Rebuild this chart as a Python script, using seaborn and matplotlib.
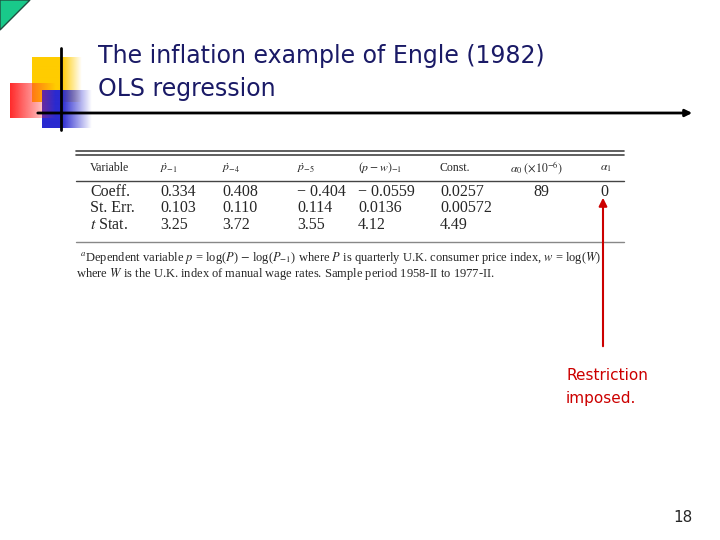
import numpy as np
import matplotlib
matplotlib.use("Agg")
import matplotlib.pyplot as plt
import seaborn as sns
from matplotlib.patches import Polygon
from matplotlib.colors import to_rgb

sns.set_theme(style="white")
plt.rcParams['font.family'] = ['DejaVu Sans']
plt.rcParams['mathtext.fontset'] = 'stix'

columns = ["Variable", r"$\dot{p}_{-1}$", r"$\dot{p}_{-4}$", r"$\dot{p}_{-5}$", r"$(p-w)_{-1}$",
           "Const.", r"$\alpha_0\ (\times 10^{-6})$", r"$\alpha_1$"]
row_labels = ["Coeff.", "St. Err.", r"$t$ Stat."]
coeff = ["0.334", "0.408", "\u2212 0.404", "\u2212 0.0559", "0.0257", "89", "0"]
st_err = ["0.103", "0.110", "0.114", "0.0136", "0.00572", "", ""]
t_stat = ["3.25", "3.72", "3.55", "4.12", "4.49", "", ""]

fig = plt.figure(figsize=(7.2, 5.4), dpi=100)
ax = fig.add_axes([0, 0, 1, 1])
ax.set_xlim(0, 720); ax.set_ylim(540, 0); ax.axis("off")

def grad(x0, y0, w, h, color, solid_frac, z):
    c = np.array(to_rgb(color))
    t = np.linspace(0, 1, 100)
    a = np.where(t < solid_frac, 1.0, 1 - (t - solid_frac) / (1 - solid_frac))
    img = np.ones((2, 100, 4)); img[..., :3] = c; img[..., 3] = a
    ax.imshow(img, extent=(x0, x0 + w, y0 + h, y0), aspect="auto", interpolation="bilinear", zorder=z)

ax.add_patch(Polygon([[0, 0], [30, 0], [0, 30]], closed=True, fc="#19c98a", ec="#205040", lw=1))
grad(32, 57, 50, 45, "#ffcc00", 0.6, 1)
grad(42, 90, 50, 38, "#2a2ad0", 0.4, 1.1)
grad(10, 83, 46, 35, "#ff2a2a", 0.0, 1.2)
ax.set_xlim(0, 720); ax.set_ylim(540, 0)
ax.plot([61, 61], [48, 130], color="black", lw=2, zorder=3)
ax.annotate("", xy=(695, 113), xytext=(35, 113),
            arrowprops=dict(arrowstyle="-|>", color="black", lw=2, mutation_scale=10), zorder=3)

ax.text(98, 56, "The inflation example of Engle (1982)", fontsize=17, color="#1a1a66", va="center")
ax.text(98, 89, "OLS regression", fontsize=17, color="#1a1a66", va="center")

serif = "Liberation Serif"
xs = [90, 160, 222, 297, 358, 440, 510, 600]
ax.plot([76, 624], [151, 151], color="#444", lw=1.2)
ax.plot([76, 624], [155, 155], color="#444", lw=1.2)
ax.plot([76, 624], [181, 181], color="#444", lw=1)
ax.plot([76, 624], [242, 242], color="#888", lw=1)
for x, c in zip(xs, columns):
    ax.text(x, 168, c, fontsize=8.5, family=serif, va="center")
for r, (lab, vals) in enumerate(zip(row_labels, [coeff, st_err, t_stat])):
    y = 192 + r * 16.5
    ax.text(90, y, lab, fontsize=11.5, family=serif, va="center")
    for i, (x, v) in enumerate(zip(xs[1:], vals)):
        if i == 5:
            ax.text(541, y, v, fontsize=11.5, family=serif, va="center", ha="center")
        elif i == 6:
            ax.text(604, y, v, fontsize=11.5, family=serif, va="center", ha="center")
        else:
            ax.text(x, y, v, fontsize=11.5, family=serif, va="center")
ax.text(80, 258, r"$^a$Dependent variable $p$ = log($P$) $-$ log($P_{-1}$) where $P$ is quarterly U.K. consumer price index, $w$ = log($W$)",
        fontsize=9, family=serif, va="center")
ax.text(76, 274, "where $W$ is the U.K. index of manual wage rates. Sample period 1958-II to 1977-II.",
        fontsize=9, family=serif, va="center")

ax.annotate("", xy=(603, 195), xytext=(603, 349),
            arrowprops=dict(arrowstyle="-|>", color="#cc0000", lw=1.5, mutation_scale=12))
ax.text(566, 376, "Restriction", fontsize=11, color="#cc0000", va="center")
ax.text(566, 398, "imposed.", fontsize=11, color="#cc0000", va="center")
ax.text(693, 517, "18", fontsize=11, ha="right", va="center")

fig.savefig("out.png", dpi=100)
